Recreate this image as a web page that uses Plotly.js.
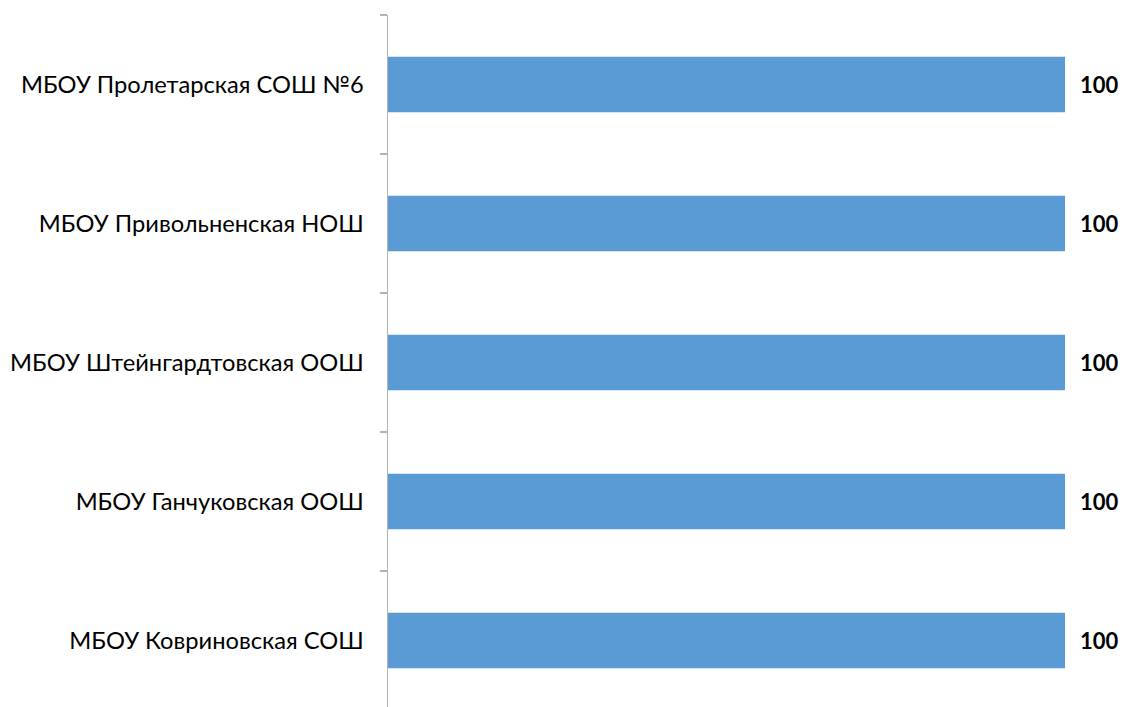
<!DOCTYPE html>
<html>
<head>
<meta charset="utf-8">
<script src="https://cdn.plot.ly/plotly-3.0.1.min.js"></script>
<style>html,body{margin:0;padding:0;background:#fff;}#chart{width:1126px;height:707px;}</style>
</head>
<body>
<div id="chart"></div>
<script>
const schools = [
  "МБОУ Пролетарская СОШ №6",
  "МБОУ Привольненская НОШ",
  "МБОУ Штейнгардтовская ООШ",
  "МБОУ Ганчуковская ООШ",
  "МБОУ Ковриновская СОШ"
];
const values = [100, 100, 100, 100, 100];
const valueLabels = values.map(v => String(v));

// bottom-to-top order for plotly category axis
const yCats = schools.slice().reverse();
const xVals = values.slice().reverse();
const txt = valueLabels.slice().reverse();

const FONT = "Lato, 'Liberation Sans', sans-serif";

const trace = {
  type: "bar",
  orientation: "h",
  y: yCats,
  x: xVals,
  marker: {color: "#5b9bd5"},
  width: 0.4,
  hoverinfo: "none"
};

const annotations = yCats.map((c, i) => ({
  x: xVals[i],
  y: c,
  xref: "x",
  yref: "y",
  text: "<b>" + txt[i] + "</b>",
  showarrow: false,
  xanchor: "left",
  yanchor: "middle",
  xshift: 13,
  font: {family: FONT, size: 22, color: "#000"}
}));

const layout = {
  width: 1126,
  height: 707,
  margin: {l: 388, r: 61, t: 15, b: 0},
  paper_bgcolor: "#fff",
  plot_bgcolor: "#fff",
  showlegend: false,
  annotations: annotations,
  xaxis: {
    range: [0, 100],
    visible: false,
    fixedrange: true
  },
  yaxis: {
    type: "category",
    categoryorder: "array",
    categoryarray: yCats,
    range: [-0.478, 4.5],
    showline: true,
    linecolor: "#b3b3b3",
    linewidth: 1.5,
    ticks: "outside",
    tickson: "boundaries",
    ticklen: 7,
    tickcolor: "#b3b3b3",
    tickwidth: 1.5,
    showgrid: false,
    zeroline: false,
    ticklabelstandoff: 18,
    tickfont: {family: FONT, size: 23.7, color: "#000"},
    fixedrange: true
  }
};

Plotly.newPlot("chart", [trace], layout, {displayModeBar: false, staticPlot: true});
</script>
</body>
</html>
